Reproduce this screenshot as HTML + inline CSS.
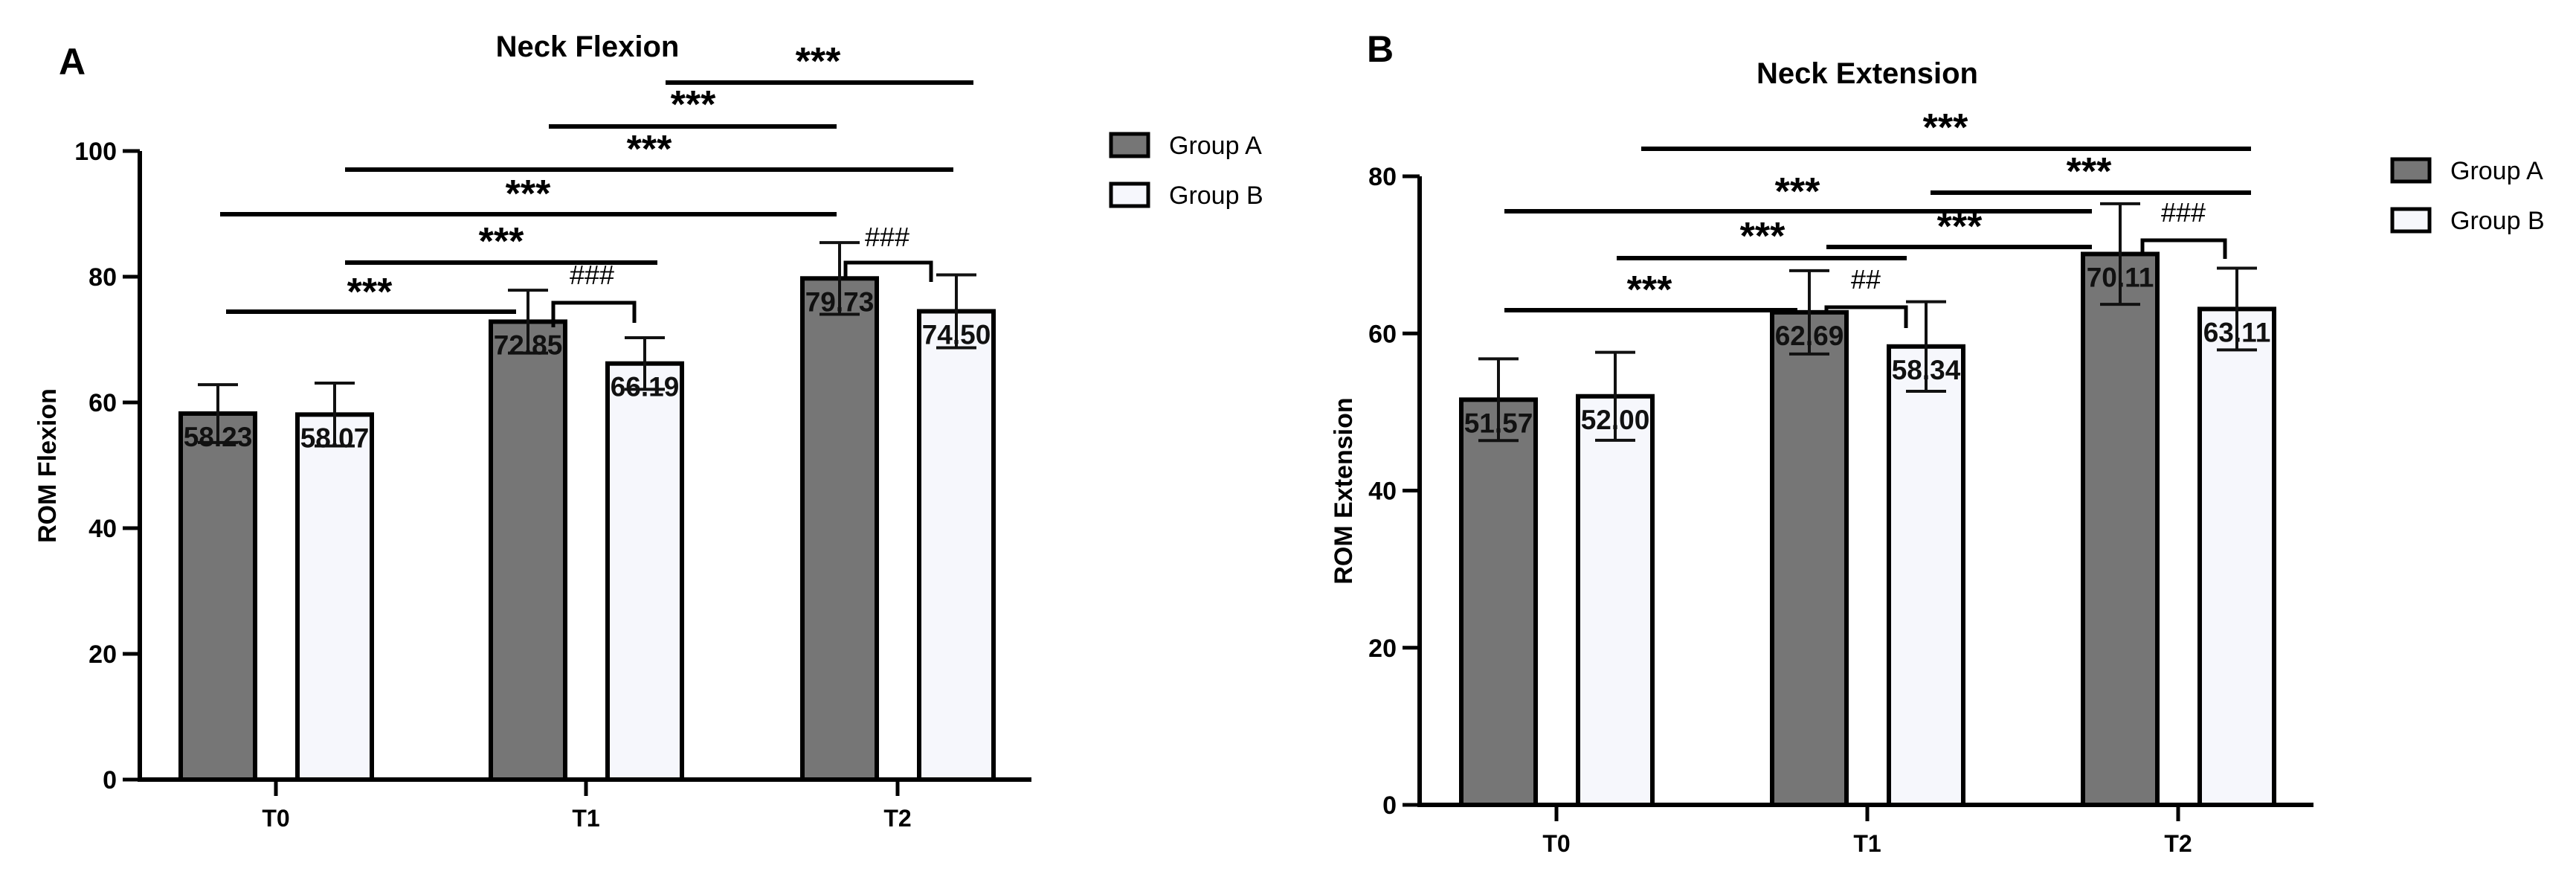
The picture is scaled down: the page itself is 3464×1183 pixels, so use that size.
<!DOCTYPE html>
<html><head><meta charset="utf-8"><style>
html,body{margin:0;padding:0;background:#fff;}
svg{display:block;}
text{font-family:"Liberation Sans",sans-serif;}
</style></head><body>
<svg id="fig" width="3464" height="1183" viewBox="0 0 3464 1183" xmlns="http://www.w3.org/2000/svg"></svg>
<script>
// ---- Panel A data ----
const catsA = ["T0","T1","T2"];
const groupA_flex = [58.23, 72.85, 79.73];
const groupB_flex = [58.07, 66.19, 74.50];
const sdA_flex = [4.6, 5.0, 5.7];
const sdB_flex = [5.0, 4.1, 5.8];
const labelsA_flex = ["58.23","72.85","79.73"];
const labelsB_flex = ["58.07","66.19","74.50"];
const ticksA = [0,20,40,60,80,100];
// ---- Panel B data ----
const catsB = ["T0","T1","T2"];
const groupA_ext = [51.57, 62.69, 70.11];
const groupB_ext = [52.00, 58.34, 63.11];
const sdA_ext = [5.2, 5.3, 6.4];
const sdB_ext = [5.6, 5.7, 5.2];
const labelsA_ext = ["51.57","62.69","70.11"];
const labelsB_ext = ["52.00","58.34","63.11"];
const ticksB = [0,20,40,60,80];

const NS = "http://www.w3.org/2000/svg";
const svg = document.getElementById("fig");
function mk(tag, attrs, parent, txt){
  const e = document.createElementNS(NS, tag);
  for (const k in attrs) e.setAttribute(k, attrs[k]);
  if (txt !== undefined) e.textContent = txt;
  (parent||svg).appendChild(e);
  return e;
}

function panel(cfg){
  const g = mk("g", {});
  
  
  const y = v => cfg.y0 - (v/cfg.ymax)*(cfg.y0-cfg.ytop);
  const xc = i => cfg.cx[i];
  // letter + title
  let t = mk("text",{x:cfg.letter[0],y:cfg.letter[1],"font-size":50,"font-weight":"bold","text-anchor":"middle"},g,cfg.letterText);
   
  t = mk("text",{x:cfg.title[0],y:cfg.title[1],"font-size":40,"font-weight":"bold","text-anchor":"middle"},g,cfg.titleText);
   
  // y title
  t = mk("text",{x:0,y:0,"font-size":34,"font-weight":"bold","text-anchor":"middle",transform:`translate(${cfg.ytitle[0]},${cfg.ytitle[1]}) rotate(-90)`},g,cfg.ytitleText);
   
  // bars
  const series = [
    {vals:cfg.a, sd:cfg.sa, lab:cfg.la, off:-78, fill:"#767676", name:"bar-group-a"},
    {vals:cfg.b, sd:cfg.sb, lab:cfg.lb, off:79, fill:"#f6f7fc", name:"bar-group-b"}
  ];
  series.forEach(s=>{
    s.vals.forEach((v,i)=>{
      const cx = xc(i)+s.off, w=100;
      const r = mk("rect",{x:cx-w/2,y:y(v),width:w,height:cfg.y0-y(v),fill:s.fill,stroke:"#000","stroke-width":6},g);
      
      
      const top=y(v+s.sd[i]), bot=y(v-s.sd[i]);
      const eb = mk("path",{d:`M${cx},${top}V${bot}M${cx-27},${top}H${cx+27}M${cx-27},${bot}H${cx+27}`,stroke:"#111","stroke-width":4,fill:"none"},g);
       
      const lt = mk("text",{x:cx,y:y(v)+44,"font-size":37,"text-anchor":"middle","font-weight":"bold",fill:"#111","font-stretch":"condensed"},g,s.lab[i]);
       
    });
  });
  // axes
  const ax = mk("path",{d:`M${cfg.x0},${cfg.ytop}V${cfg.y0}H${cfg.xend}`,stroke:"#000","stroke-width":6,fill:"none"},g);
   
  cfg.ticks.forEach(v=>{
    mk("line",{x1:cfg.x0-23,x2:cfg.x0,y1:y(v),y2:y(v),stroke:"#000","stroke-width":5},g);
    const tl = mk("text",{x:cfg.x0-31,y:y(v)+12,"font-size":34,"font-weight":"bold","text-anchor":"end"},g,String(v));
     
  });
  cfg.cats.forEach((c,i)=>{
    mk("line",{x1:xc(i),x2:xc(i),y1:cfg.y0,y2:cfg.y0+22,stroke:"#000","stroke-width":5},g);
    const xl = mk("text",{x:xc(i),y:cfg.xlabY,"font-size":32,"font-weight":"bold","text-anchor":"middle"},g,c);
     
  });
  // significance lines
  cfg.sig.forEach(s=>{
    const l = mk("line",{x1:s[0],x2:s[1],y1:s[2],y2:s[2],stroke:"#000","stroke-width":6},g);
     
    const st = mk("text",{x:(s[3]),y:s[4]+22,"font-size":52,"font-weight":"bold","text-anchor":"middle"},g,"***");
     
  });
  cfg.hash.forEach(h=>{
    const b = mk("path",{d:`M${h[0]},${h[3]}V${h[2]}H${h[1]}V${h[4]}`,stroke:"#000","stroke-width":5,fill:"none"},g);
     
    const ht = mk("text",{x:h[5],y:h[6]+13,"font-size":36,"text-anchor":"middle","font-family":"Liberation Serif, serif"},g,h[7]);
     
  });
  // legend
  [[cfg.leg[1],"#767676","Group A"],[cfg.leg[2],"#f6f7fc","Group B"]].forEach((e,k)=>{
    const lg = mk("g",{},g);
    
    
    mk("rect",{x:cfg.leg[0],y:e[0]-15,width:50,height:30,fill:e[1],stroke:"#000","stroke-width":5},lg);
    mk("text",{x:cfg.leg[0]+78,y:e[0]+12,"font-size":34,"font-stretch":"condensed"},lg,e[2]);
  });
}

panel({name:"panel-a-neck-flexion", cats:catsA, a:groupA_flex, b:groupB_flex, sa:sdA_flex, sb:sdB_flex, la:labelsA_flex, lb:labelsB_flex,
  ticks:ticksA, ymax:100, y0:1048, ytop:203, x0:188, xend:1387, cx:[371,788,1207], xlabY:1111,
  letter:[97,100], letterText:"A", title:[790,76], titleText:"Neck Flexion", ytitle:[75,626], ytitleText:"ROM Flexion",
  sig:[[304,694,419,497,388],[464,884,353,674,320],[296,1125,288,710,256],[464,1282,228,873,196],[738,1125,170,932,136],[895,1309,111,1100,78]],
  hash:[[744,853,407,440,434,796,369,"###"],[1137,1252,353,377,379,1193,318,"###"]],
  leg:[1494,195,262]});

panel({name:"panel-b-neck-extension", cats:catsB, a:groupA_ext, b:groupB_ext, sa:sdA_ext, sb:sdB_ext, la:labelsA_ext, lb:labelsB_ext,
  ticks:ticksB, ymax:80, y0:1082, ytop:237, x0:1909, xend:3111, cx:[2093,2511,2929], xlabY:1145,
  letter:[1856,83], letterText:"B", title:[2511,112], titleText:"Neck Extension", ytitle:[1818,660], ytitleText:"ROM Extension",
  sig:[[2023,2417,417,2218,385],[2174,2564,347,2370,313],[2456,2813,332,2635,300],[2023,2813,284,2417,253],[2596,3027,259,2809,226],[2207,3027,200,2616,167]],
  hash:[[2456,2563,413,420,441,2509,375,"##"],[2881,2992,323,340,348,2936,285,"###"]],
  leg:[3217,229,296]});
</script>
</body></html>
